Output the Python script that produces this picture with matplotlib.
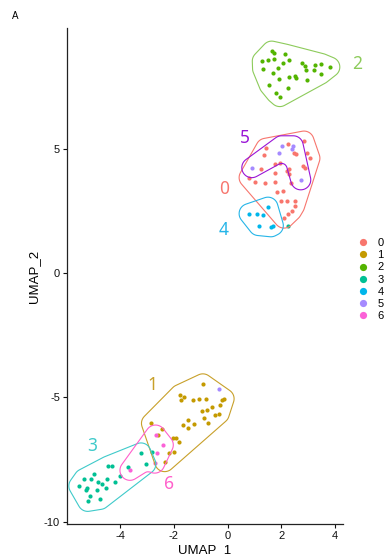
"""UMAP cluster plot with hull outlines around each cluster."""

import contourpy
import matplotlib

matplotlib.use("Agg")
import matplotlib.pyplot as plt
import numpy as np
from matplotlib.lines import Line2D
from matplotlib.path import Path as MplPath

plt.rcParams["font.family"] = ["Liberation Sans", "DejaVu Sans"]
plt.rcParams["axes.unicode_minus"] = False

CLUSTERS = ["0", "1", "2", "3", "4", "5", "6"]
POINT_COLORS = ["#F8766D", "#C49A00", "#53B400", "#00C094", "#00B6EB", "#A58AFF", "#FB61D7"]
HULL_COLORS = ["#F7766E", "#C8A02A", "#8DCB5B", "#3FCACA", "#26B5E8", "#9A15D6", "#FF5FCB"]

C0_X = [1.42, 2.25, 2.84, 2.46, 2.54, 1.35, 2.96, 3.06, 1.75, 1.94, 2.29, 2.22, 2.81, 2.87, 1.26, 0.80,
        1.01, 1.40, 1.75, 1.75, 2.28, 2.35, 1.84, 2.07, 1.97, 2.19, 2.50, 2.49, 2.38, 2.25, 2.10]
C0_Y = [5.02, 5.18, 5.31, 4.82, 4.78, 4.74, 4.84, 4.62, 4.38, 4.42, 4.20, 4.12, 4.31, 4.24, 4.18, 3.84,
        3.67, 3.61, 4.02, 3.68, 3.99, 3.64, 3.28, 3.29, 2.89, 2.88, 2.90, 2.70, 2.50, 2.37, 2.21]

C1_X = [-0.92, -1.77, -1.62, -1.75, -1.30, -1.06, -0.81, -0.58, -0.97, -0.78, -0.29, -0.21, -0.13, -0.31,
        -0.47, -0.86, -0.72, -1.67, -1.46, -1.49, -1.26, -2.42, -2.83, -1.92, -1.81, -2.02, -2.60, -2.17,
        -1.99, -2.34]
C1_Y = [-4.46, -4.89, -5.00, -5.13, -5.12, -5.05, -5.05, -5.38, -5.57, -5.52, -5.32, -5.09, -5.06, -5.66,
        -5.73, -5.82, -6.02, -6.13, -5.91, -6.24, -6.06, -6.28, -6.05, -6.64, -6.80, -6.65, -6.53, -7.24,
        -7.20, -7.59]

C2_X = [1.64, 1.72, 2.14, 1.29, 1.49, 1.72, 2.07, 2.27, 2.75, 2.89, 3.25, 3.49, 3.80, 1.30, 1.88, 2.91,
        3.20, 3.46, 1.70, 2.29, 2.51, 2.53, 1.91, 2.96, 1.55, 2.23, 1.80, 1.94]
C2_Y = [8.93, 8.86, 8.81, 8.53, 8.59, 8.61, 8.47, 8.57, 8.47, 8.34, 8.37, 8.43, 8.29, 8.22, 8.24, 8.16,
        8.18, 8.00, 8.06, 7.90, 7.92, 7.84, 7.82, 7.76, 7.56, 7.43, 7.23, 7.10]

C3_X = [-5.53, -5.34, -5.09, -4.96, -4.83, -4.67, -4.50, -4.17, -4.44, -4.29, -3.72, -3.99, -3.22, -3.04,
        -5.28, -5.22, -4.85, -4.52, -5.10, -4.74, -5.20]
C3_Y = [-8.57, -8.28, -8.30, -8.07, -8.40, -8.48, -8.27, -8.39, -7.77, -7.77, -7.79, -8.17, -7.24, -7.69,
        -8.73, -8.67, -8.72, -8.64, -8.96, -9.11, -9.19]

C4_X = [0.80, 1.10, 1.32, 1.50, 1.15, 1.61, 1.70]
C4_Y = [2.39, 2.39, 2.35, 2.65, 1.91, 1.86, 1.91]

C5_X = [2.01, 2.44, 2.40, 1.91, 0.90, 2.72]
C5_Y = [5.12, 5.12, 4.98, 4.84, 4.24, 3.75]

C6_X = [-2.68, -2.39, -2.62, -2.71, -3.63]
C6_Y = [-6.52, -6.92, -7.26, -7.65, -7.94]

# cells drawn in a cluster colour but lying outside that cluster's hull
STRAY_CLUSTER = ["3", "5", "3"]
STRAY_X = [2.25, -0.31, -2.80]
STRAY_Y = [1.91, -4.65, -7.20]

CLUSTER_XY = {
    "0": (C0_X, C0_Y),
    "1": (C1_X, C1_Y),
    "2": (C2_X, C2_Y),
    "3": (C3_X, C3_Y),
    "4": (C4_X, C4_Y),
    "5": (C5_X, C5_Y),
    "6": (C6_X, C6_Y),
}

# where the cluster numbers sit, in data units
LABEL_XY = {
    "0": (-0.14, 3.37),
    "1": (-2.79, -4.50),
    "2": (4.83, 8.41),
    "3": (-5.03, -6.96),
    "4": (-0.14, 1.74),
    "5": (0.64, 5.42),
    "6": (-2.16, -8.50),
}

EXPAND_PX = 10.0
RADIUS_PX = 5.0
# clusters whose hull is allowed to bend inwards
CONCAVE = {"5": 1.4, "6": 1.4}


def _cross(o, a, b):
    return (a[0] - o[0]) * (b[1] - o[1]) - (a[1] - o[1]) * (b[0] - o[0])


def _convex_hull(pts):
    idx = sorted(range(len(pts)), key=lambda i: (pts[i][0], pts[i][1]))
    if len(idx) < 3:
        return idx
    lower = []
    for i in idx:
        while len(lower) >= 2 and _cross(pts[lower[-2]], pts[lower[-1]], pts[i]) <= 0:
            lower.pop()
        lower.append(i)
    upper = []
    for i in reversed(idx):
        while len(upper) >= 2 and _cross(pts[upper[-2]], pts[upper[-1]], pts[i]) <= 0:
            upper.pop()
        upper.append(i)
    return lower[:-1] + upper[:-1]


def _seg_dist(p, a, b):
    ab = b - a
    l2 = float(ab @ ab)
    if l2 == 0:
        return float(np.hypot(*(p - a)))
    t = np.clip(((p - a) @ ab) / l2, 0, 1)
    return float(np.hypot(*(p - (a + t * ab))))


def _segments_cross(p1, p2, p3, p4):
    d1 = _cross(p3, p4, p1)
    d2 = _cross(p3, p4, p2)
    d3 = _cross(p1, p2, p3)
    d4 = _cross(p1, p2, p4)
    return d1 * d2 < 0 and d3 * d4 < 0


def _in_triangle(p, a, b, c):
    d1, d2, d3 = _cross(a, b, p), _cross(b, c, p), _cross(c, a, p)
    neg = d1 < 0 or d2 < 0 or d3 < 0
    pos = d1 > 0 or d2 > 0 or d3 > 0
    return not (neg and pos)


def _concave_hull(pts, concavity):
    hull = _convex_hull(pts)
    if concavity is None:
        return pts[hull]
    inner = [i for i in range(len(pts)) if i not in hull]
    changed = True
    while changed and inner and len(hull) >= 3:
        changed = False
        n = len(hull)
        for k in range(n):
            a, b = pts[hull[k]], pts[hull[(k + 1) % n]]
            max_len = np.hypot(*(b - a)) / concavity
            best, best_d = None, np.inf
            for j in inner:
                p = pts[j]
                d = _seg_dist(p, a, b)
                if d >= best_d:
                    continue
                if min(np.hypot(*(p - a)), np.hypot(*(p - b))) > max_len:
                    continue
                if any(_in_triangle(pts[q], a, p, b) for q in inner if q != j):
                    continue
                crosses = False
                for m in range(n):
                    if m == k:
                        continue
                    c, e = pts[hull[m]], pts[hull[(m + 1) % n]]
                    if _segments_cross(a, p, c, e) or _segments_cross(p, b, c, e):
                        crosses = True
                        break
                if not crosses:
                    best, best_d = j, d
            if best is not None:
                hull.insert(k + 1, best)
                inner.remove(best)
                changed = True
                break
    return pts[hull]


def _dist_to_segments(gx, gy, a, b):
    ab = b - a
    l2 = (ab ** 2).sum(axis=1)
    l2[l2 == 0] = 1e-9
    flat_x = gx.ravel()
    flat_y = gy.ravel()
    out = np.empty(flat_x.size)
    step = 2000
    for s in range(0, flat_x.size, step):
        px = flat_x[s:s + step, None]
        py = flat_y[s:s + step, None]
        t = np.clip(((px - a[:, 0]) * ab[:, 0] + (py - a[:, 1]) * ab[:, 1]) / l2, 0, 1)
        dx = px - (a[:, 0] + t * ab[:, 0])
        dy = py - (a[:, 1] + t * ab[:, 1])
        out[s:s + step] = np.sqrt((dx ** 2 + dy ** 2).min(axis=1))
    return out.reshape(gx.shape)


def _signed_distance(gx, gy, poly):
    d = _dist_to_segments(gx, gy, poly, np.roll(poly, -1, axis=0))
    if len(poly) >= 3:
        inside = MplPath(poly).contains_points(np.column_stack([gx.ravel(), gy.ravel()]))
        d[inside.reshape(gx.shape)] *= -1
    return d


def draw_hull(ax, xs, ys, color, concavity):
    pix = ax.transData.transform(np.column_stack([xs, ys]))
    poly = _concave_hull(pix, concavity)
    pad = EXPAND_PX + RADIUS_PX + 5
    gx, gy = np.meshgrid(
        np.arange(pix[:, 0].min() - pad, pix[:, 0].max() + pad, 1.0),
        np.arange(pix[:, 1].min() - pad, pix[:, 1].max() + pad, 1.0),
    )
    # dilate by expand + radius, then erode by radius to round off notches
    outer = EXPAND_PX + RADIUS_PX
    d1 = _signed_distance(gx, gy, poly)
    lines = contourpy.contour_generator(gx, gy, d1, line_type="Separate").lines(outer)
    a = np.vstack([ln[:-1] for ln in lines])
    b = np.vstack([ln[1:] for ln in lines])
    d2 = _dist_to_segments(gx, gy, a, b)
    closed = np.where(d1 <= outer, d2, -d2)

    back = ax.transData.inverted().transform(np.column_stack([gx.ravel(), gy.ravel()]))
    xd = back[:, 0].reshape(gx.shape)
    yd = back[:, 1].reshape(gx.shape)
    ax.contour(xd, yd, closed, levels=[RADIUS_PX], colors=[color], linewidths=0.8, zorder=3)


def main():
    fig = plt.figure(figsize=(3.85, 5.56), dpi=100)
    ax = fig.add_axes([67 / 385, 1 - 524 / 556, (343 - 67) / 385, (524 - 28) / 556])
    ax.set_xlim(-5.97, 4.29)
    ax.set_ylim(-10.1, 9.86)

    for i, cl in enumerate(CLUSTERS):
        xs, ys = CLUSTER_XY[cl]
        ax.scatter(xs, ys, s=9, color=POINT_COLORS[i], linewidths=0, zorder=2)
    for cl, x, y in zip(STRAY_CLUSTER, STRAY_X, STRAY_Y):
        ax.scatter([x], [y], s=9, color=POINT_COLORS[CLUSTERS.index(cl)], linewidths=0, zorder=2)

    for i, cl in enumerate(CLUSTERS):
        xs, ys = CLUSTER_XY[cl]
        draw_hull(ax, xs, ys, HULL_COLORS[i], CONCAVE.get(cl))
        lx, ly = LABEL_XY[cl]
        ax.text(lx, ly, cl, color=HULL_COLORS[i], fontsize=12.5, ha="center", va="center",
                family=["Noto Sans", "DejaVu Sans"], clip_on=False)

    ax.set_xticks([-4, -2, 0, 2, 4])
    ax.set_yticks([-10, -5, 0, 5])
    for side in ("top", "right"):
        ax.spines[side].set_visible(False)
    for side in ("left", "bottom"):
        ax.spines[side].set_linewidth(0.9)
        ax.spines[side].set_color("#222222")
    ax.tick_params(length=3, width=0.8, labelsize=8, pad=2, colors="#111111")
    ax.set_xlabel("UMAP_1", fontsize=9.5, labelpad=2)
    ax.set_ylabel("UMAP_2", fontsize=9.5, labelpad=3)

    handles = [
        Line2D([], [], marker="o", linestyle="", markersize=5.2, color=c, markeredgewidth=0)
        for c in POINT_COLORS
    ]
    fig.legend(handles, CLUSTERS, loc="center left", bbox_to_anchor=(352 / 385, 1 - 279.7 / 556),
               frameon=False, fontsize=8, handlelength=2, handletextpad=0.3, labelspacing=0.2,
               borderpad=0, borderaxespad=0)

    fig.text(15.7 / 385, 1 - 16 / 556, "A", fontsize=7, ha="center", va="center")
    fig.savefig("out.png", dpi=100)
    plt.close(fig)


if __name__ == "__main__":
    main()
